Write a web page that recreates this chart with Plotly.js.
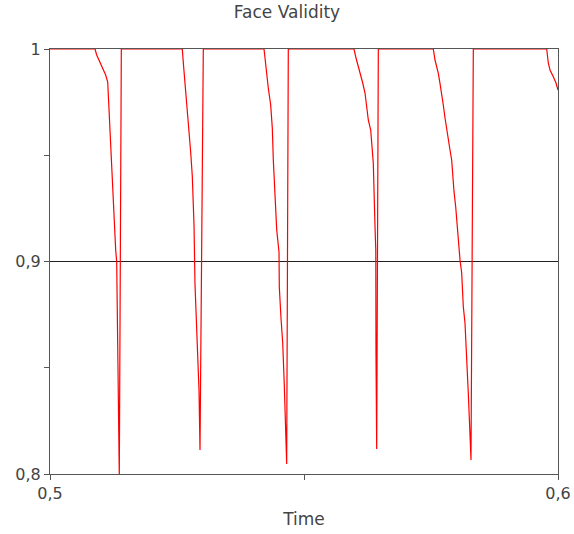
<!DOCTYPE html>
<html>
<head>
<meta charset="utf-8">
<script src="https://cdn.plot.ly/plotly-3.0.1.min.js"></script>
<style>
  html, body { margin: 0; padding: 0; background: #ffffff; }
  #chart { width: 574px; height: 534px; }
</style>
</head>
<body>
<div id="chart"></div>
<script>
// Time values and Face Validity values (one array pair per dip)
const lead0X = [0.5];
const lead0Y = [1];

const dip1X = [0.50886, 0.50919, 0.50965, 0.51018, 0.51049, 0.51096, 0.51136, 0.51161, 0.51201, 0.51234, 0.51266, 0.51293, 0.51313, 0.51325, 0.51344, 0.51364, 0.51404];
const dip1Y = [1, 0.99718, 0.99482, 0.99247, 0.99012, 0.98776, 0.98447, 0.97129, 0.95247, 0.93365, 0.91718, 0.90541, 0.89976, 0.86918, 0.82400, 0.79906, 1];

const dip2X = [0.52604, 0.52628, 0.52667, 0.52703, 0.52736, 0.52769, 0.52801, 0.52835, 0.52854, 0.52900, 0.52933, 0.52953, 0.53018];
const dip2Y = [1, 0.99247, 0.98165, 0.97129, 0.96094, 0.95153, 0.94024, 0.91718, 0.88941, 0.86494, 0.83953, 0.81129, 1];

const dip3X = [0.54213, 0.54252, 0.54297, 0.54344, 0.54376, 0.54396, 0.54429, 0.54463, 0.54508, 0.54514, 0.54547, 0.54581, 0.54612, 0.54640, 0.54659, 0.54691];
const dip3Y = [1, 0.99012, 0.98165, 0.97365, 0.96282, 0.94776, 0.93129, 0.91482, 0.90447, 0.88800, 0.87341, 0.86165, 0.84188, 0.81694, 0.80471, 1];

const dip4X = [0.55984, 0.56024, 0.56069, 0.56116, 0.56156, 0.56201, 0.56234, 0.56266, 0.56313, 0.56364, 0.56398, 0.56413, 0.56417, 0.56431, 0.56463];
const dip4Y = [1, 0.99576, 0.99167, 0.98871, 0.98400, 0.97929, 0.97285, 0.96659, 0.96188, 0.94635, 0.91638, 0.90541, 0.85694, 0.81176, 1];

const dip5X = [0.57545, 0.57579, 0.57612, 0.57644, 0.57677, 0.57711, 0.57742, 0.57776, 0.57809, 0.57841, 0.57874, 0.57907, 0.57927, 0.57953, 0.57986, 0.58018, 0.58051, 0.58071, 0.58104, 0.58136, 0.58169, 0.58203, 0.58234, 0.58268, 0.58287, 0.58333];
const dip5Y = [1, 0.99482, 0.99167, 0.98856, 0.98386, 0.97915, 0.97365, 0.96753, 0.96188, 0.95718, 0.95247, 0.94776, 0.93991, 0.93285, 0.92579, 0.91576, 0.90696, 0.90071, 0.89459, 0.87873, 0.87106, 0.85694, 0.83812, 0.81835, 0.80659, 1];

const tail6X = [0.59778, 0.59809, 0.59843, 0.59907, 0.59961, 0.6];
const tail6Y = [1, 0.99341, 0.99012, 0.98696, 0.98400, 0.98071];

const xTickVals = [0.5, 0.6];
const yTickVals = [0.8, 0.9, 1];

const timeValues = [].concat(lead0X, dip1X, dip2X, dip3X, dip4X, dip5X, tail6X);
const faceValidity = [].concat(lead0Y, dip1Y, dip2Y, dip3Y, dip4Y, dip5Y, tail6Y);

const FONT = 'DejaVu Sans, Verdana, sans-serif';
const TXT = '#444444';
const AXC = '#555555';

const trace = {
  x: timeValues,
  y: faceValidity,
  type: 'scatter',
  mode: 'lines',
  line: { color: '#ff0000', width: 1.2, shape: 'linear' },
  cliponaxis: true,
  hoverinfo: 'skip',
  showlegend: false
};

const layout = {
  width: 574,
  height: 534,
  margin: { l: 50, r: 16, t: 49, b: 60, pad: 0 },
  paper_bgcolor: '#ffffff',
  plot_bgcolor: '#ffffff',
  separators: ', ',
  font: { family: FONT, size: 16, color: TXT },
  title: {
    text: 'Face Validity',
    font: { family: FONT, size: 17, color: TXT },
    xref: 'container', x: 0.5, xanchor: 'center',
    yref: 'container', y: 0.978, yanchor: 'middle'
  },
  xaxis: {
    range: [0.5, 0.6],
    tickvals: xTickVals,
    ticks: 'outside', ticklen: 5, tickwidth: 1, tickcolor: AXC,
    minor: { dtick: 0.05, ticks: 'outside', ticklen: 5, tickwidth: 1, tickcolor: AXC, showgrid: false },
    showgrid: false,
    zeroline: false,
    showline: true, mirror: true, linecolor: AXC, linewidth: 1,
    tickfont: { family: FONT, size: 16, color: TXT },
    title: { text: 'Time', font: { family: FONT, size: 17, color: TXT }, standoff: 10 },
    fixedrange: true
  },
  yaxis: {
    range: [0.8, 1],
    tickvals: yTickVals,
    ticks: 'outside', ticklen: 5, tickwidth: 1, tickcolor: AXC,
    minor: { dtick: 0.05, ticks: 'outside', ticklen: 5, tickwidth: 1, tickcolor: AXC, showgrid: false },
    showgrid: true, gridcolor: '#222222', gridwidth: 1,
    zeroline: false,
    showline: true, mirror: true, linecolor: AXC, linewidth: 1,
    tickfont: { family: FONT, size: 16, color: TXT },
    fixedrange: true
  },
  hovermode: false
};

Plotly.newPlot('chart', [trace], layout, { displayModeBar: false, staticPlot: true });
</script>
</body>
</html>
